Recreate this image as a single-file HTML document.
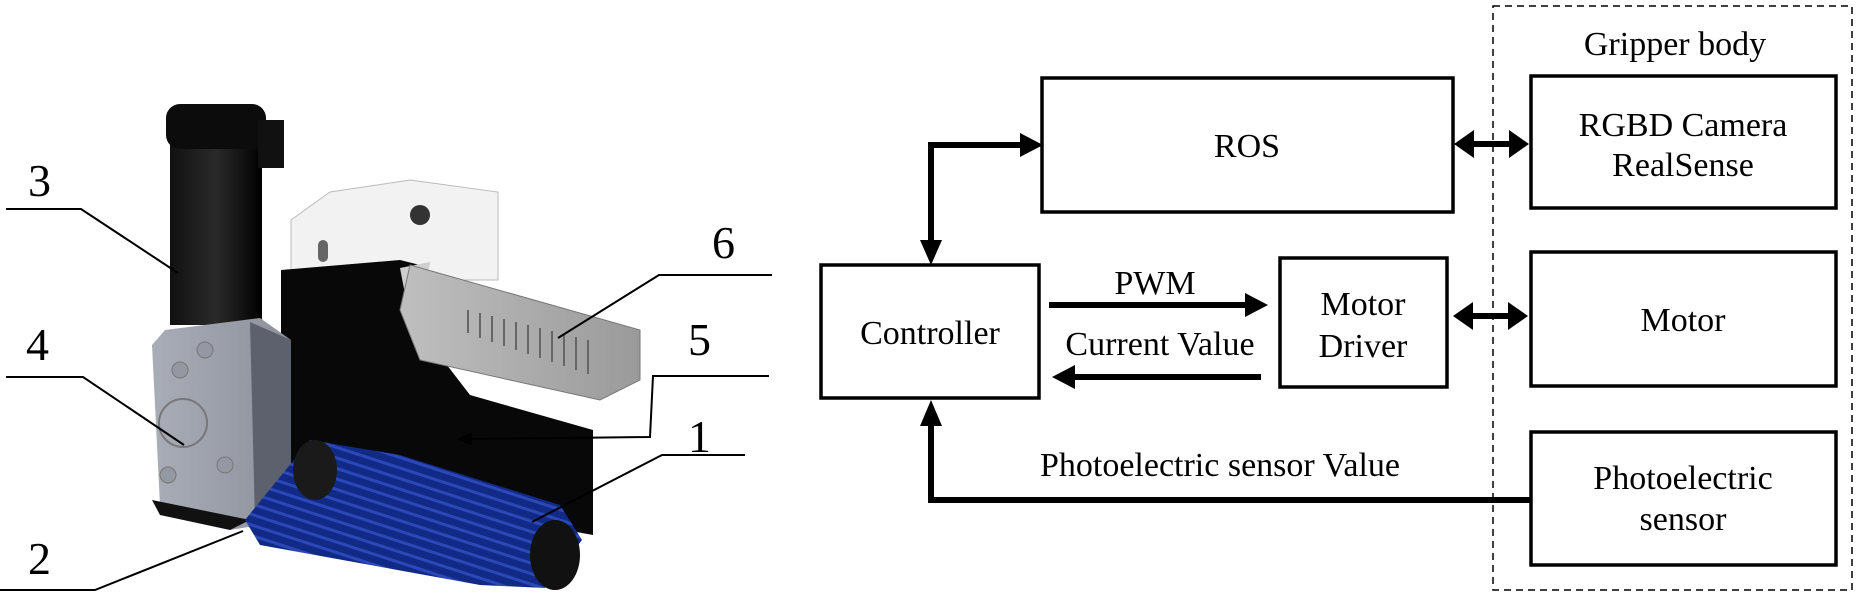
<!DOCTYPE html>
<html><head><style>
html,body{margin:0;padding:0;background:#fff;}
svg{display:block;}
text{font-family:"Liberation Serif",serif;fill:#000;}
</style></head><body>
<svg width="1861" height="608" viewBox="0 0 1861 608" xmlns="http://www.w3.org/2000/svg">
<defs>
<linearGradient id="blk" x1="0" x2="1"><stop offset="0" stop-color="#111"/><stop offset="0.5" stop-color="#2a2a2a"/><stop offset="1" stop-color="#000"/></linearGradient>
<linearGradient id="gry" x1="0" x2="1"><stop offset="0" stop-color="#a9adb8"/><stop offset="1" stop-color="#8c909b"/></linearGradient>
<linearGradient id="fin" x1="0" x2="1"><stop offset="0" stop-color="#bfbfbf"/><stop offset="1" stop-color="#9a9a9a"/></linearGradient>
<pattern id="rib" width="10" height="10" patternUnits="userSpaceOnUse" patternTransform="rotate(18)"><rect width="10" height="10" fill="#102a86"/><rect width="10" height="3" fill="#2c48b8"/></pattern>
</defs>
<!-- left figure -->
<polygon points="291,220 330,192 410,180 498,192 498,280 291,280" fill="#f2f2f2" stroke="#bbb"/>
<circle cx="420" cy="215" r="10" fill="#333"/>
<rect x="318" y="240" width="10" height="22" rx="5" fill="#666"/>
<rect x="170" y="125" width="92" height="200" fill="url(#blk)"/>
<rect x="166" y="104" width="100" height="45" rx="14" fill="#0c0c0c"/>
<rect x="258" y="120" width="26" height="48" fill="#111"/>
<polygon points="281,270 400,260 420,265 420,330 470,395 593,430 593,535 400,500 281,470" fill="#080808"/>
<polygon points="400,268 430,262 420,330 410,320" fill="#cfcfcf"/>
<polygon points="410,265 640,330 640,380 600,400 420,360 400,310" fill="url(#fin)" stroke="#777"/>
<g stroke="#666" stroke-width="2">
<line x1="468" y1="310" x2="468" y2="333"/><line x1="480" y1="313" x2="480" y2="338"/><line x1="492" y1="316" x2="492" y2="342"/><line x1="504" y1="319" x2="504" y2="346"/><line x1="516" y1="322" x2="516" y2="350"/><line x1="528" y1="325" x2="528" y2="354"/><line x1="540" y1="328" x2="540" y2="358"/><line x1="552" y1="331" x2="552" y2="362"/><line x1="564" y1="334" x2="564" y2="366"/><line x1="576" y1="337" x2="576" y2="370"/><line x1="588" y1="340" x2="588" y2="374"/>
</g>
<polygon points="152,345 165,330 260,318 291,340 291,520 230,530 160,505" fill="url(#gry)"/>
<polygon points="250,322 291,340 291,520 255,522" fill="#5c616d"/>
<polygon points="152,500 250,520 230,530 160,515" fill="#111"/>
<circle cx="183" cy="423" r="24" fill="none" stroke="#777" stroke-width="2"/>
<circle cx="180" cy="370" r="8" fill="#9498a3" stroke="#777"/><circle cx="205" cy="350" r="8" fill="#9498a3" stroke="#777"/><circle cx="168" cy="475" r="8" fill="#9498a3" stroke="#777"/><circle cx="225" cy="465" r="8" fill="#9498a3" stroke="#777"/>
<polygon points="245,520 310,440 400,455 560,505 582,540 545,588 480,585 260,545" fill="url(#rib)"/>
<ellipse cx="315" cy="470" rx="22" ry="30" fill="#1a1a1a"/>
<ellipse cx="555" cy="555" rx="25" ry="35" fill="#111"/>
<g stroke="#000" stroke-width="2" fill="none">
<polyline points="6,209 81,209 178,273"/>
<polyline points="6,377 83,377 184,445"/>
<polyline points="0,590 95,590 243,531"/>
<polyline points="772,275 659,275 558,338"/>
<polyline points="769,376 653,376 650,437 470,439"/>
<polyline points="745,455 662,455 532,522"/>
</g>
<polygon points="457,439 472,432 472,446" fill="#000"/>
<g font-size="46">
<text x="28" y="196">3</text><text x="26" y="360">4</text><text x="28" y="574">2</text>
<text x="712" y="258">6</text><text x="688" y="355">5</text><text x="688" y="452">1</text>
</g>
<!-- right diagram -->
<rect x="1493" y="6" width="359" height="584" fill="none" stroke="#000" stroke-width="1.5" stroke-dasharray="7,5"/>
<text x="1675" y="55" font-size="34" text-anchor="middle">Gripper body</text>
<g fill="none" stroke="#000" stroke-width="3.5">
<rect x="1042" y="78" width="411" height="134"/>
<rect x="1531" y="76" width="305" height="132"/>
<rect x="821" y="265" width="218" height="133"/>
<rect x="1280" y="258" width="167" height="129"/>
<rect x="1531" y="252" width="305" height="134"/>
<rect x="1531" y="432" width="305" height="133"/>
</g>
<g font-size="34" text-anchor="middle">
<text x="1247" y="157">ROS</text>
<text x="1683" y="136">RGBD Camera</text><text x="1683" y="176">RealSense</text>
<text x="930" y="344">Controller</text>
<text x="1363" y="315">Motor</text><text x="1363" y="357">Driver</text>
<text x="1683" y="331">Motor</text>
<text x="1683" y="489">Photoelectric</text><text x="1683" y="530">sensor</text>
<text x="1155" y="294">PWM</text>
<text x="1160" y="355">Current Value</text>
<text x="1220" y="476">Photoelectric sensor Value</text>
</g>
<g stroke="#000" stroke-width="6" fill="none">
<polyline points="931,242 931,145 1022,145"/>
<line x1="1049" y1="305" x2="1248" y2="305"/>
<line x1="1261" y1="377" x2="1072" y2="377"/>
<polyline points="1531,500 931,500 931,424"/>
<line x1="1470" y1="144" x2="1512" y2="144"/>
<line x1="1470" y1="316" x2="1512" y2="316"/>
</g>
<g fill="#000">
<polygon points="931,265 920,240 942,240"/>
<polygon points="1043,145 1020,133 1020,157"/>
<polygon points="1268,305 1245,293 1245,317"/>
<polygon points="1052,377 1075,365 1075,389"/>
<polygon points="931,400 920,426 942,426"/>
<polygon points="1454,144 1474,130 1474,158"/><polygon points="1529,144 1509,130 1509,158"/>
<polygon points="1453,316 1473,302 1473,330"/><polygon points="1528,316 1508,302 1508,330"/>
</g>
</svg>
</body></html>
